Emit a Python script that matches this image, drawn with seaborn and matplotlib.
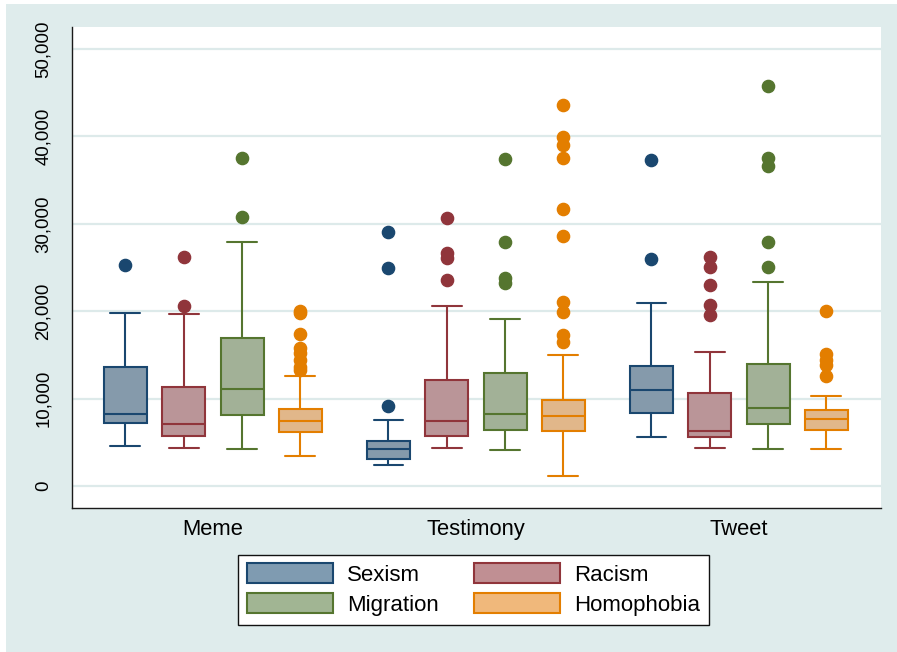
import numpy as np
import pandas as pd
import matplotlib
matplotlib.use("Agg")
import matplotlib.pyplot as plt
from matplotlib.patches import Patch, Rectangle
import seaborn as sns

# ---------------- data ----------------
categories = ["Meme", "Testimony", "Tweet"]
series = ["Sexism", "Racism", "Migration", "Homophobia"]

# five-number summaries per series, one value per category (Meme, Testimony, Tweet)
whisker_low = {
    "Sexism":     [4610, 2400, 5640],
    "Racism":     [4390, 4390, 4390],
    "Migration":  [4230, 4080, 4230],
    "Homophobia": [3470, 1100, 4200],
}
quartile1 = {
    "Sexism":     [7210, 3050, 8350],
    "Racism":     [5700, 5720, 5640],
    "Migration":  [8080, 6450, 7060],
    "Homophobia": [6180, 6300, 6410],
}
median = {
    "Sexism":     [8270, 4190, 10990],
    "Racism":     [7090, 7400, 6290],
    "Migration":  [11060, 8200, 8960],
    "Homophobia": [7480, 8010, 7700],
}
quartile3 = {
    "Sexism":     [13650, 5150, 13770],
    "Racism":     [11350, 12130, 10600],
    "Migration":  [16930, 12890, 13960],
    "Homophobia": [8810, 9850, 8700],
}
whisker_high = {
    "Sexism":     [19830, 7550, 20970],
    "Racism":     [19700, 20560, 15330],
    "Migration":  [27920, 19110, 23340],
    "Homophobia": [12630, 14950, 10300],
}
outliers = {
    "Sexism":     [[25250], [9150, 24980, 29060], [26010, 37300]],
    "Racism":     [[20560, 26200], [23570, 26050, 26620, 30630],
                   [19570, 20710, 23000, 25100, 26240]],
    "Migration":  [[30780, 37490], [23190, 23760, 27880, 37450],
                   [25100, 27920, 36650, 37490, 45730]],
    "Homophobia": [[13270, 13650, 14420, 15180, 15750, 17390, 19750, 20050],
                   [16510, 17280, 19950, 21090, 28570, 31660, 37570, 39020,
                    39900, 43560],
                   [12590, 13840, 14420, 15100, 20060]],
}

edge_colors = {"Sexism": "#1A476F", "Racism": "#90353B",
               "Migration": "#55752F", "Homophobia": "#E37E00"}
fill_colors = {"Sexism": "#7F9BB1", "Racism": "#C08F93",
               "Migration": "#A1B593", "Homophobia": "#F0B87B"}


def sample_for(lo, q1, med, q3, hi, outs, k=12):
    """Observations whose box-plot statistics equal the given summary."""
    n_q3 = 4 * k + 1 - 2 - 2 * k - len(outs)
    return [lo] + [q1] * k + [med] * k + [q3] * n_q3 + [hi] + list(outs)


rows = []
for s in series:
    for i, c in enumerate(categories):
        vals = sample_for(whisker_low[s][i], quartile1[s][i], median[s][i],
                          quartile3[s][i], whisker_high[s][i], outliers[s][i])
        rows += [{"format": c, "series": s, "value": v} for v in vals]
df = pd.DataFrame(rows)

# ---------------- figure ----------------
sns.set_style("white")
plt.rcParams["font.family"] = ["Liberation Sans", "DejaVu Sans"]

W, H = 897, 652
fig = plt.figure(figsize=(W / 100, H / 100), dpi=100, facecolor="white")
bg = "#DFECEC"
fig.patches.append(Rectangle((6 / W, 0), 1 - 6 / W, 1 - 4 / H,
                             transform=fig.transFigure, facecolor=bg,
                             edgecolor="none", zorder=-10))

ax = fig.add_axes([72 / W, 1 - 508 / H, (881 - 72) / W, (508 - 27) / H])
ax.set_facecolor("white")

for s in series:
    sub = df[df["series"] == s]
    sns.boxplot(data=sub, x="format", y="value", hue="series",
                order=categories, hue_order=series, palette=fill_colors,
                linecolor=edge_colors[s], linewidth=1.5, width=0.887,
                gap=0.26, dodge=True, legend=False, whis=1.5,
                capwidths=0.114,
                flierprops=dict(marker="o", markersize=8.8,
                                markerfacecolor=edge_colors[s],
                                markeredgecolor=edge_colors[s]),
                ax=ax)

ax.set_xlim(-0.536, 2.54)
ax.set_ylim(-2517, 52517)
ax.set_yticks(np.arange(0, 50001, 10000))
ax.set_yticklabels([f"{v:,}" for v in range(0, 50001, 10000)],
                   rotation=90, va="center", fontsize=13.4, color="black")
ax.tick_params(axis="y", length=6.5, width=1, color="#222222", pad=8)
ax.tick_params(axis="x", length=0, pad=8, labelsize=15.8, labelcolor="black")
ax.set_xlabel("")
ax.set_ylabel("")
ax.yaxis.grid(True, color="#DDEAEA", linewidth=1.6)
ax.set_axisbelow(True)
for sp in ["top", "right"]:
    ax.spines[sp].set_visible(False)
for sp in ["left", "bottom"]:
    ax.spines[sp].set_color("#1a1a1a")
    ax.spines[sp].set_linewidth(1.0)

# legend rows: Sexism / Racism, Migration / Homophobia (matplotlib fills by column)
legend_order = ["Sexism", "Migration", "Racism", "Homophobia"]
handles = [Patch(facecolor=fill_colors[s], edgecolor=edge_colors[s],
                 linewidth=1.5, label=s) for s in legend_order]
leg = fig.legend(handles=handles, labels=legend_order, ncol=2,
                 loc="center", bbox_to_anchor=(473.5 / W, 1 - 589.5 / H),
                 fontsize=16.0, frameon=True, fancybox=False, framealpha=1,
                 handlelength=3.86, handleheight=0.95, handletextpad=0.64,
                 columnspacing=1.6, labelspacing=0.35, borderpad=0.4)
leg.get_frame().set_edgecolor("#111111")
leg.get_frame().set_linewidth(1.0)
leg.get_frame().set_facecolor("white")
for t in leg.get_texts():
    t.set_color("black")

fig.savefig("out.png", dpi=100, facecolor=fig.get_facecolor())
